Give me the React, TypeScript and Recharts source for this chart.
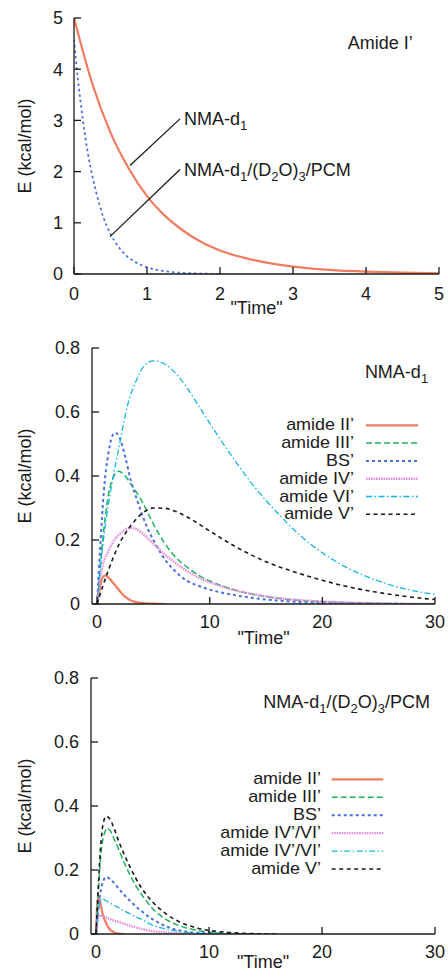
import React from "react";
import { LineChart, Line, XAxis, YAxis, ReferenceLine, ReferenceDot, Legend } from "recharts";

const FONT = "'Liberation Sans', Arial, Helvetica, sans-serif";
const INK = "#1a1a1a";

// ---- panel 1: Amide I' decay
const amideITicks = [0, 1, 2, 3, 4, 5];
const gasT = [0, 0.25, 0.5, 0.75, 1, 1.25, 1.5, 1.75, 2, 2.5, 3, 3.5, 4, 4.5, 5];
const gasE = [5.0, 3.72, 2.76, 2.06, 1.52, 1.13, 0.84, 0.62, 0.46, 0.26, 0.145, 0.08, 0.045, 0.025, 0.015];
const solvT = [0, 0.05, 0.1, 0.15, 0.2, 0.3, 0.4, 0.5, 0.6, 0.7, 0.8, 1.0, 1.2, 1.4, 1.7, 2.0];
const solvE = [4.58, 3.85, 3.25, 2.72, 2.28, 1.62, 1.12, 0.78, 0.55, 0.38, 0.27, 0.13, 0.065, 0.03, 0.01, 0];
const pointerGas = [{ x: 0.767, y: 2.12 }, { x: 1.452, y: 3.03 }];
const pointerSolv = [{ x: 0.493, y: 0.73 }, { x: 1.452, y: 2.04 }];

// ---- panels 2 and 3 share axes
const timeTicks = [0, 10, 20, 30];
const energyTicks = [0, 0.2, 0.4, 0.6, 0.8];

// panel 2: NMA-d1
const iiT = [0, 0.2, 0.4, 0.7, 1, 1.4, 1.8, 2.2, 2.6, 3, 3.5, 4, 5, 6];
const iiE = [0, 0.04, 0.075, 0.089, 0.083, 0.067, 0.05, 0.033, 0.02, 0.011, 0.006, 0.003, 0.001, 0];
const iiiT = [0, 0.5, 1, 1.5, 1.9, 2.5, 3, 4, 5, 6, 7, 8, 9, 10, 11, 12, 14, 16, 18, 20, 25, 30];
const iiiE = [0, 0.2, 0.34, 0.4, 0.415, 0.4, 0.375, 0.32, 0.25, 0.19, 0.145, 0.115, 0.09, 0.072, 0.058, 0.046, 0.029, 0.018, 0.011, 0.007, 0.002, 0];
const bsT = [0, 0.3, 0.6, 1, 1.3, 1.6, 2, 2.5, 3, 3.5, 4, 4.5, 5, 6, 7, 8, 9, 10, 11, 12, 14, 16, 18, 20, 25, 30];
const bsE = [0, 0.19, 0.35, 0.47, 0.52, 0.535, 0.52, 0.46, 0.385, 0.33, 0.28, 0.235, 0.2, 0.14, 0.1, 0.072, 0.057, 0.045, 0.036, 0.029, 0.018, 0.011, 0.006, 0.004, 0.001, 0];
const ivT = [0, 0.25, 0.5, 1, 1.5, 2, 2.5, 3, 3.5, 4, 5, 6, 7, 8, 9, 10, 12, 14, 16, 18, 20, 22, 25, 30];
const ivE = [0, 0.075, 0.12, 0.165, 0.198, 0.218, 0.232, 0.238, 0.234, 0.222, 0.188, 0.155, 0.127, 0.103, 0.083, 0.068, 0.045, 0.03, 0.019, 0.012, 0.008, 0.005, 0.002, 0];
const viT = [0, 0.5, 1, 1.5, 2, 2.7, 3.5, 4.2, 5, 6, 7, 8, 9, 10, 12, 14, 16, 18, 20, 22, 24, 26, 28, 30];
const viE = [0, 0.18, 0.31, 0.41, 0.5, 0.62, 0.7, 0.745, 0.76, 0.75, 0.72, 0.675, 0.62, 0.565, 0.46, 0.365, 0.285, 0.215, 0.16, 0.117, 0.085, 0.06, 0.042, 0.03];
const vT = [0, 0.5, 1, 2, 3, 4, 5, 6, 7, 8, 10, 12, 15, 18, 20, 22, 25, 28, 30];
const vE = [0, 0.055, 0.105, 0.19, 0.245, 0.283, 0.3, 0.299, 0.289, 0.272, 0.228, 0.185, 0.132, 0.095, 0.074, 0.056, 0.036, 0.021, 0.014];

// panel 3: NMA-d1/(D2O)3/PCM
const ii3T = [0, 0.1, 0.2, 0.35, 0.6, 0.9, 1.2, 1.6, 2, 2.5];
const ii3E = [0, 0.09, 0.114, 0.1, 0.06, 0.033, 0.015, 0.005, 0.001, 0];
const iii3T = [0, 0.2, 0.4, 0.7, 1, 1.3, 1.6, 2, 2.5, 3, 3.5, 4, 5, 6, 7, 8, 9, 10, 12, 14];
const iii3E = [0, 0.13, 0.24, 0.31, 0.33, 0.32, 0.297, 0.265, 0.222, 0.185, 0.152, 0.125, 0.08, 0.05, 0.031, 0.019, 0.011, 0.006, 0.002, 0];
const bs3T = [0, 0.2, 0.5, 0.9, 1.3, 1.7, 2, 2.5, 3, 3.5, 4, 5, 6, 7, 8, 10, 12];
const bs3E = [0, 0.08, 0.15, 0.178, 0.17, 0.155, 0.142, 0.122, 0.104, 0.087, 0.072, 0.046, 0.027, 0.014, 0.007, 0.002, 0];
const iv3T = [0, 0.15, 0.35, 0.6, 1, 1.5, 2, 3, 4, 5, 6, 8];
const iv3E = [0, 0.045, 0.058, 0.056, 0.05, 0.043, 0.038, 0.026, 0.016, 0.009, 0.005, 0.001];
const vi3T = [0, 0.2, 0.52, 1, 1.5, 2, 2.5, 3, 3.5, 4, 5, 6, 7, 8, 10, 12];
const vi3E = [0, 0.07, 0.11, 0.101, 0.092, 0.082, 0.072, 0.063, 0.054, 0.046, 0.028, 0.017, 0.01, 0.005, 0.001, 0];
const v3T = [0, 0.2, 0.4, 0.6, 0.9, 1.2, 1.6, 2, 2.5, 3, 3.5, 4, 5, 6, 7, 8, 9, 10, 11, 12, 14, 16];
const v3E = [0, 0.15, 0.27, 0.34, 0.368, 0.36, 0.33, 0.29, 0.248, 0.21, 0.175, 0.145, 0.1, 0.068, 0.045, 0.029, 0.018, 0.011, 0.007, 0.004, 0.001, 0];

const names2 = ["amide II\u2019", "amide III\u2019", "BS\u2019", "amide IV\u2019", "amide VI\u2019", "amide V\u2019"];
const names3 = ["amide II\u2019", "amide III\u2019", "BS\u2019", "amide IV\u2019/VI\u2019", "amide IV\u2019/VI\u2019", "amide V\u2019"];

const pts = (t: number[], e: number[]) => t.map((x, i) => ({ t: x, e: e[i] }));

// line looks, same order as the legends
const looks = [
  { color: "#f37b5f", dash: undefined, width: 2.2 },
  { color: "#1fb35a", dash: "6 3", width: 1.5 },
  { color: "#4a6fe0", dash: "3 3", width: 2 },
  { color: "#e38bd9", dash: "1.5 1", width: 2.4 },
  { color: "#17b5e3", dash: "6 2.5 1.5 2.5", width: 1.3 },
  { color: INK, dash: "4 3.5", width: 1.6 },
];

const series2 = [pts(iiT, iiE), pts(iiiT, iiiE), pts(bsT, bsE), pts(ivT, ivE), pts(viT, viE), pts(vT, vE)];
const series3 = [pts(ii3T, ii3E), pts(iii3T, iii3E), pts(bs3T, bs3E), pts(iv3T, iv3E), pts(vi3T, vi3E), pts(v3T, v3E)];

type Seg = { s: string; sub?: boolean };

function rich(segs: Seg[], anchor: "start" | "end", dx: number) {
  return (p: any) => {
    const vb = p.viewBox;
    const x = vb.x + vb.width / 2 + dx;
    const y = vb.y + vb.height / 2 + 6.4;
    let low = false;
    return (
      <text x={x} y={y} textAnchor={anchor} fontSize={18} fontFamily={FONT} fill={INK}>
        {segs.map((g, i) => {
          const dy = g.sub && !low ? 5 : !g.sub && low ? -5 : 0;
          low = !!g.sub;
          return (
            <tspan key={i} dy={dy} fontSize={g.sub ? 13 : 18}>
              {g.s}
            </tspan>
          );
        })}
      </text>
    );
  };
}

const nmaSegs: Seg[] = [{ s: "NMA-d" }, { s: "1", sub: true }];
const pcmSegs: Seg[] = [
  { s: "NMA-d" }, { s: "1", sub: true }, { s: "/(D" }, { s: "2", sub: true },
  { s: "O)" }, { s: "3", sub: true }, { s: "/PCM" },
];

const timeLabel = (dy: number) => (p: any) => {
  const vb = p.viewBox;
  return (
    <text x={vb.x + vb.width / 2} y={vb.y + dy} textAnchor="middle" fontSize={18} fontFamily={FONT} fill={INK}>
      {'"Time"'}
    </text>
  );
};

const energyLabel = (p: any) => {
  const vb = p.viewBox;
  const cx = vb.x + 25;
  const cy = vb.y + vb.height / 2;
  return (
    <text x={cx} y={cy} transform={`rotate(-90 ${cx} ${cy})`} textAnchor="middle" dominantBaseline="central"
      fontSize={18} fontFamily={FONT} fill={INK}>
      E (kcal/mol)
    </text>
  );
};

const tickFont = { fontSize: 18, fontFamily: FONT, fill: INK };
const frameLine = { stroke: INK, strokeWidth: 1.3 };

function frame(xDom: number[], xTicks: number[], yDom: number[], yTicks: number[], yW: number, xH: number,
  xGap: number, yGap: number, timeDy: number) {
  return [
    <XAxis key="xb" type="number" dataKey="t" domain={xDom} ticks={xTicks} interval={0} allowDataOverflow
      height={xH} tickSize={-7} tickMargin={xGap} axisLine={frameLine} tickLine={frameLine} tick={tickFont}
      label={timeLabel(timeDy)} />,
    <XAxis key="xt" xAxisId="top" orientation="top" type="number" domain={xDom} ticks={xTicks} interval={0}
      height={0} tickSize={-7} axisLine={frameLine} tickLine={frameLine} tickFormatter={() => ""} />,
    <YAxis key="yl" type="number" domain={yDom} ticks={yTicks} interval={0} allowDataOverflow width={yW}
      tickSize={-7} tickMargin={yGap} axisLine={frameLine} tickLine={frameLine} tick={tickFont}
      label={energyLabel} />,
    <YAxis key="yr" yAxisId="right" orientation="right" type="number" domain={yDom} ticks={yTicks} interval={0}
      width={0} tickSize={-7} axisLine={frameLine} tickLine={frameLine} tickFormatter={() => ""} />,
  ];
}

// html key: rows are tight in the original, so the text is set a bit smaller and widened back
function curveKey(names: string[], textX: number, x1: number, x2: number, y0: number, gap: number, h: number) {
  return () => (
    <div style={{ position: "relative", width: 448, height: h, pointerEvents: "none" }}>
      {names.map((n, i) => (
        <div key={i} style={{
          position: "absolute", left: textX - 160, width: 160, top: y0 + i * gap - gap / 2, height: gap,
          lineHeight: `${gap}px`, textAlign: "right", fontSize: 15.9, fontFamily: FONT, color: INK,
          whiteSpace: "nowrap", transform: "scaleX(1.13)", transformOrigin: "right center",
        }}>{n}</div>
      ))}
      <svg width={448} height={h} style={{ position: "absolute", left: 0, top: 0 }}>
        {names.map((n, i) => {
          const y = y0 + i * gap;
          const lk = looks[i];
          return <line key={i} x1={x1} x2={x2} y1={y} y2={y} stroke={lk.color} strokeWidth={lk.width} strokeDasharray={lk.dash} />;
        })}
      </svg>
    </div>
  );
}

function curves(series: { t: number; e: number }[][], names: string[]) {
  return series.map((d, i) => (
    <Line key={i} data={d} dataKey="e" name={names[i] + i} type="monotone" dot={false} activeDot={false}
      stroke={looks[i].color} strokeWidth={looks[i].width} strokeDasharray={looks[i].dash}
      isAnimationActive={false} />
  ));
}

export default function App() {
  return (
    <div style={{ position: "absolute", left: 0, top: 0, width: 448, height: 973, background: "#fff", overflow: "hidden" }}>
      <div style={{ position: "absolute", left: 0, top: 0 }}>
        <LineChart width={448} height={320} margin={{ top: 18, right: 9, bottom: 0, left: 0 }}>
          {frame([0, 5], amideITicks, [0, 5], amideITicks, 74, 46, 20, 18, 40)}
          <Line data={pts(gasT, gasE)} dataKey="e" name="NMA-d1" type="monotone" dot={false} activeDot={false}
            stroke={looks[0].color} strokeWidth={2.2} isAnimationActive={false} />
          <Line data={pts(solvT, solvE)} dataKey="e" name="NMA-d1/(D2O)3/PCM" type="monotone" dot={false}
            activeDot={false} stroke="#4a6fe0" strokeWidth={1.8} strokeDasharray="2.5 3" isAnimationActive={false} />
          <ReferenceLine segment={pointerGas} stroke={INK} strokeWidth={1.3} ifOverflow="visible" />
          <ReferenceLine segment={pointerSolv} stroke={INK} strokeWidth={1.3} ifOverflow="visible" />
          <ReferenceDot x={pointerGas[1].x} y={pointerGas[1].y} r={1} fill="none" stroke="none" ifOverflow="visible"
            label={rich(nmaSegs, "start", 4)} />
          <ReferenceDot x={pointerSolv[1].x} y={pointerSolv[1].y} r={1} fill="none" stroke="none" ifOverflow="visible"
            label={rich(pcmSegs, "start", 4)} />
          <ReferenceDot x={4.64} y={4.52} r={1} fill="none" stroke="none" ifOverflow="visible"
            label={rich([{ s: "Amide I\u2019" }], "end", 0)} />
        </LineChart>
      </div>
      <div style={{ position: "absolute", left: 0, top: 320 }}>
        <LineChart width={448} height={330} margin={{ top: 28, right: 13, bottom: 0, left: 0 }}>
          {frame([-0.45, 30], timeTicks, [0, 0.8], energyTicks, 92, 46, 18, 19, 40)}
          {curves(series2, names2)}
          <ReferenceDot x={29.39} y={0.727} r={1} fill="none" stroke="none" ifOverflow="visible"
            label={rich(nmaSegs, "end", 0)} />
          <Legend layout="horizontal" verticalAlign="middle" align="center"
            wrapperStyle={{ left: 0, top: 0, width: 448, height: 330 }}
            content={curveKey(names2, 354, 366, 418, 105.3, 17.8, 330)} />
        </LineChart>
      </div>
      <div style={{ position: "absolute", left: 0, top: 650 }}>
        <LineChart width={448} height={323} margin={{ top: 28, right: 13, bottom: 0, left: 0 }}>
          {frame([-0.45, 30], timeTicks, [0, 0.8], energyTicks, 91, 39, 18, 19, 34)}
          {curves(series3, names3)}
          <ReferenceDot x={29.56} y={0.725} r={1} fill="none" stroke="none" ifOverflow="visible"
            label={rich(pcmSegs, "end", 0)} />
          <Legend layout="horizontal" verticalAlign="middle" align="center"
            wrapperStyle={{ left: 0, top: 0, width: 448, height: 323 }}
            content={curveKey(names3, 320.7, 331.7, 383.3, 129.3, 17.94, 323)} />
        </LineChart>
      </div>
    </div>
  );
}
